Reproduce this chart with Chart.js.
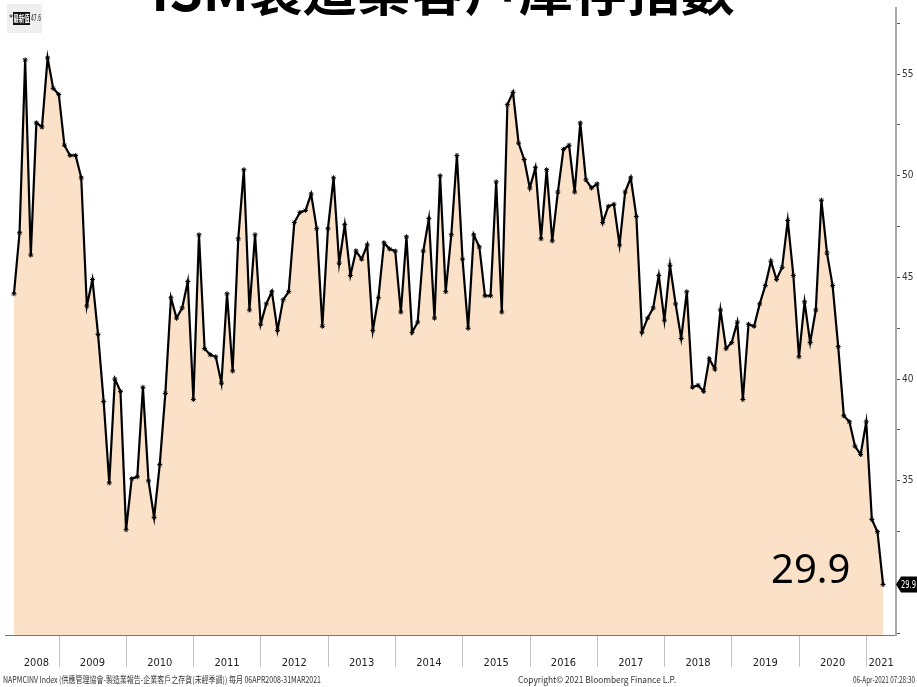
<!DOCTYPE html>
<html><head><meta charset="utf-8">
<script src="https://cdn.jsdelivr.net/npm/chart.js@4/dist/chart.umd.min.js"></script>
<style>html,body{margin:0;padding:0;background:#fff;overflow:hidden}#wrap{width:917px;height:687px;position:relative}</style>
</head><body><div id="wrap"><canvas id="c" width="917" height="687"></canvas></div>
<script>
// ---- data ----
const startYear = 2008, startMonth = 4, monthCount = 156;
const months = [];
for (let i = 0; i < monthCount; i++) {
  const m = (startMonth - 1 + i) % 12 + 1, y = startYear + Math.floor((startMonth - 1 + i) / 12);
  months.push(y + '-' + String(m).padStart(2, '0'));
}
const values = [
  44.2,47.2,55.7,46.1,52.6,52.4,55.8,54.3,54.0,            // 2008 Apr-Dec
  51.5,51.0,51.0,49.9,43.6,44.9,42.2,38.9,34.9,40.0,39.4,32.6, // 2009
  35.1,35.2,39.6,35.0,33.2,35.8,39.3,44.0,43.0,43.5,44.8,39.0, // 2010
  47.1,41.5,41.2,41.1,39.8,44.2,40.4,46.9,50.3,43.4,47.1,42.7, // 2011
  43.7,44.3,42.4,43.9,44.3,47.7,48.2,48.3,49.1,47.4,42.6,47.4, // 2012
  49.9,45.7,47.6,45.1,46.3,45.9,46.6,42.4,44.0,46.7,46.4,46.3, // 2013
  43.3,47.0,42.3,42.8,46.3,47.9,43.0,50.0,44.3,47.1,51.0,45.9, // 2014
  42.5,47.1,46.5,44.1,44.1,49.7,43.3,53.5,54.1,51.6,50.8,49.4, // 2015
  50.4,46.9,50.3,46.8,49.2,51.3,51.5,49.2,52.6,49.8,49.4,49.6, // 2016
  47.7,48.5,48.6,46.6,49.2,49.9,48.0,42.3,43.0,43.5,45.1,42.9, // 2017
  45.6,43.7,42.0,44.3,39.6,39.7,39.4,41.0,40.5,43.4,41.5,41.8, // 2018
  42.8,39.0,42.7,42.6,43.7,44.6,45.8,44.9,45.5,47.8,45.1,41.1, // 2019
  43.8,41.8,43.4,48.8,46.2,44.6,41.6,38.2,37.9,36.7,36.3,37.9, // 2020
  33.1,32.5,29.9                                            // 2021 Jan-Mar
];
const yearLabels = ['2008','2009','2010','2011','2012','2013','2014','2015','2016','2017','2018','2019','2020','2021'];
const yTickValues = [27.5,30,32.5,35,37.5,40,42.5,45,47.5,50,52.5,55,57.5];
const yTickLabels = {35:'35',40:'40',45:'45',50:'50',55:'55'};
const lastValue = values[values.length - 1];
const titleText = 'ISM製造業客戶庫存指數';
const annotationText = '29.9';
const legendLabel = '最新值';
const legendValue = '47.6';
const footerLeft = 'NAPMCINV Index (供應管理協會-製造業報告-企業客戶之存貨(未經季調)) 每月 06APR2008-31MAR2021';
const footerCenter = 'Copyright© 2021 Bloomberg Finance L.P.';
const footerRight = '06-Apr-2021 07:28:30';

const NARROW = "'Liberation Sans Narrow','DejaVu Sans Condensed',sans-serif";
const pxPerMonth = 874 / 155;
const xMin = -9 / pxPerMonth, xMax = 155 + 13 / pxPerMonth;

// ---- derived (points are month-end dates; year boundary sits just after the December point) ----
const centerMap = new Map();
const boundaries = new Set();
yearLabels.forEach((yr, k) => {
  const idx = months.map((m, i) => m.startsWith(yr) ? i : -1).filter(i => i >= 0);
  const first = idx[0], last = idx[idx.length - 1];
  let c;
  if (k === 0) c = (first + last) / 2;
  else if (k === yearLabels.length - 1) c = (first - 1 + xMax) / 2;
  else c = (first - 1 + last) / 2;
  centerMap.set(c, yr);
  if (k > 0) boundaries.add(first - 1 + 0.04);
});
const xTicks = [...centerMap.keys(), ...boundaries].sort((a, b) => a - b);
const points = values.map((v, i) => ({x: i, y: v}));

const decor = {
  id: 'decor',
  afterDraw(chart) {
    const ctx = chart.ctx;
    const ys = chart.scales.y;
    ctx.save();
    // title (cut at top)
    ctx.fillStyle = '#000';
    ctx.font = "bold 54px 'Noto Sans CJK TC'";
    ctx.textAlign = 'center';
    ctx.textBaseline = 'alphabetic';
    ctx.fillText(titleText, 443, 11);
    // legend box
    ctx.fillStyle = '#efefef';
    ctx.fillRect(7, 4, 35, 29);
    ctx.fillStyle = '#000';
    ctx.font = "9px " + NARROW;
    ctx.textAlign = 'left';
    ctx.textBaseline = 'middle';
    ctx.fillText('*', 9, 19);
    ctx.fillStyle = '#111';
    ctx.fillRect(13, 12, 17, 13);
    ctx.fillStyle = '#fff';
    ctx.font = "bold 9px 'Noto Sans CJK TC'";
    ctx.fillText(legendLabel, 13.5, 18.5, 16);
    ctx.fillStyle = '#222';
    ctx.font = "9px " + NARROW;
    ctx.fillText(legendValue, 31, 19, 10);
    // annotation
    ctx.fillStyle = '#000';
    ctx.font = "40px 'Noto Sans'";
    ctx.textBaseline = 'alphabetic';
    ctx.fillText(annotationText, 771, 583);
    // last value tag
    const py = ys.getPixelForValue(lastValue);
    ctx.fillStyle = '#000';
    ctx.beginPath();
    ctx.moveTo(896, py);
    ctx.lineTo(901, py - 8);
    ctx.lineTo(917, py - 8);
    ctx.lineTo(917, py + 8);
    ctx.lineTo(901, py + 8);
    ctx.closePath();
    ctx.fill();
    ctx.fillStyle = '#fff';
    ctx.font = "10px " + NARROW;
    ctx.textBaseline = 'middle';
    ctx.fillText(lastValue.toFixed(1), 901, py + 0.5, 15);
    // footer
    ctx.fillStyle = '#333';
    ctx.font = "9px 'Noto Sans CJK TC'";
    ctx.textBaseline = 'alphabetic';
    ctx.textAlign = 'left';
    ctx.fillText(footerLeft, 3, 683, 318);
    ctx.textAlign = 'center';
    ctx.fillText(footerCenter, 597, 683, 158);
    ctx.textAlign = 'right';
    ctx.fillText(footerRight, 915, 683, 62);
    ctx.restore();
  }
};

new Chart(document.getElementById('c'), {
  type: 'line',
  data: {
    datasets: [{
      label: 'NAPMCINV',
      data: points,
      borderColor: '#000',
      borderWidth: 2.2,
      backgroundColor: '#fbe1c7',
      fill: 'start',
      tension: 0,
      pointStyle: 'star',
      pointRadius: 2.5,
      pointBorderWidth: 1,
      pointBorderColor: '#000',
      pointBackgroundColor: '#000'
    }]
  },
  options: {
    responsive: false,
    devicePixelRatio: 1,
    animation: false,
    layout: {padding: 0},
    plugins: {legend: {display: false}, title: {display: false}, tooltip: {enabled: false}},
    scales: {
      x: {
        type: 'linear', position: 'bottom', min: xMin, max: xMax,
        afterBuildTicks: s => { s.ticks = xTicks.map(v => ({value: v})); },
        afterFit: s => { s.height = 52; },
        ticks: {
          autoSkip: false, maxRotation: 0, minRotation: 0, padding: -10,
          color: '#222', font: {family: NARROW, size: 11},
          callback: v => centerMap.get(v) || ''
        },
        grid: {
          drawOnChartArea: false, drawTicks: true, tickLength: 32,
          color: c => (c.tick && boundaries.has(c.tick.value)) ? '#c4c4c4' : 'rgba(0,0,0,0)',
          lineWidth: 1
        },
        border: {display: true, color: '#777', width: 1}
      },
      y: {
        type: 'linear', position: 'right', min: 27.42, max: 58.25,
        afterBuildTicks: s => { s.ticks = yTickValues.map(v => ({value: v})); },
        afterFit: s => { s.width = 21; },
        ticks: {
          autoSkip: false, padding: 2, color: '#333', font: {family: NARROW, size: 10},
          callback: v => yTickLabels[v] || ''
        },
        grid: {drawOnChartArea: false, drawTicks: true, tickLength: 4, color: '#555'},
        border: {display: true, color: '#aaa', width: 2}
      }
    }
  },
  plugins: [decor]
});
</script>
</body></html>
